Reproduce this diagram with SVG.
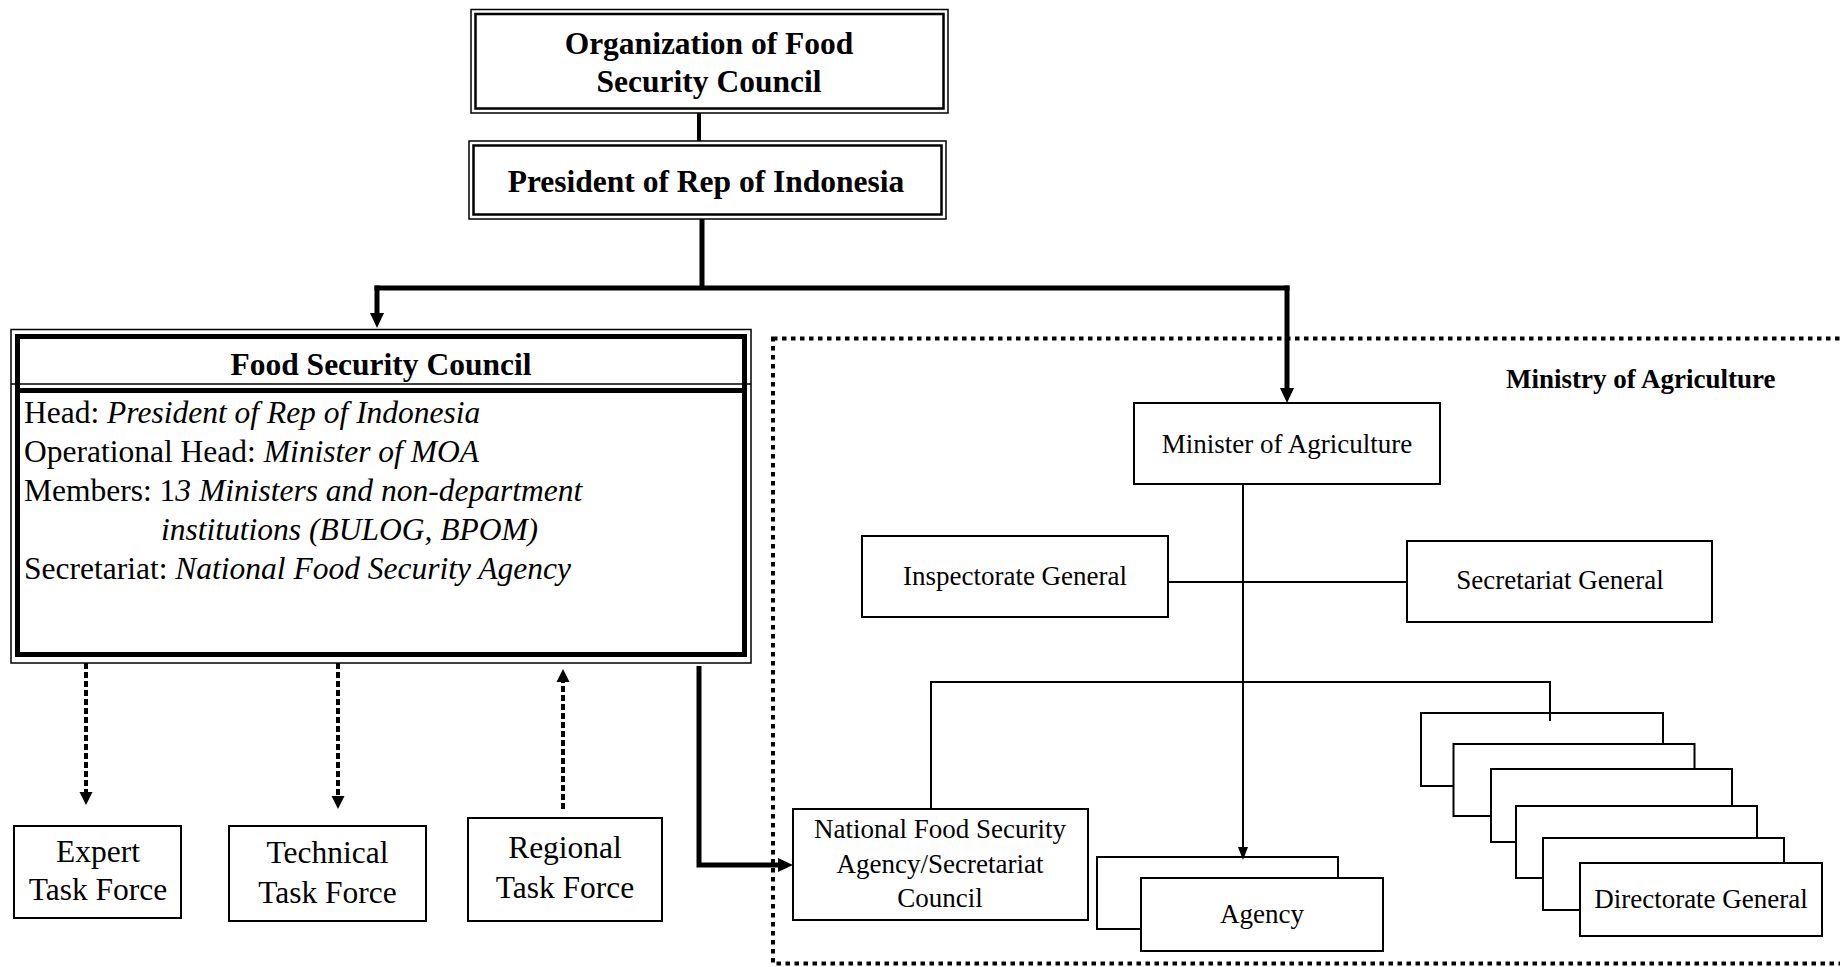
<svg xmlns="http://www.w3.org/2000/svg" width="1840" height="967" viewBox="0 0 1840 967">
<style>
text{font-family:"Liberation Serif","Times New Roman",serif;fill:#000}
.tb{font-weight:bold;font-size:31.5px}
.tr{font-size:31.5px}
.ti{font-style:italic}
.tm{font-size:27px}
.tmb{font-size:27px;font-weight:bold}
.c{text-anchor:middle}
.box{fill:#fff;stroke:#000;stroke-width:2}
.thin{fill:none;stroke:#000;stroke-width:1.5}
.dbl{fill:none;stroke:#000;stroke-width:2.5}
.thick{fill:none;stroke:#000;stroke-width:5}
.ln{fill:none;stroke:#000;stroke-width:2}
.bold{fill:none;stroke:#000;stroke-width:5}
.dash{fill:none;stroke:#000;stroke-width:4;stroke-dasharray:6 3}
.dot{fill:none;stroke:#000;stroke-width:4;stroke-dasharray:4.5 4.5}
</style>
<defs>
<marker id="aBig" markerUnits="userSpaceOnUse" markerWidth="16" markerHeight="16" refX="0" refY="7" orient="auto" viewBox="0 0 16 14"><path d="M0,0 L15,7 L0,14 z" fill="#000"/></marker>
<marker id="aMid" markerUnits="userSpaceOnUse" markerWidth="14" markerHeight="14" refX="0" refY="6.5" orient="auto" viewBox="0 0 14 13"><path d="M0,0 L13,6.5 L0,13 z" fill="#000"/></marker>
<marker id="aSm" markerUnits="userSpaceOnUse" markerWidth="14" markerHeight="12" refX="0" refY="5" orient="auto" viewBox="0 0 14 10"><path d="M0,0 L13,5 L0,10 z" fill="#000"/></marker>
</defs>
<rect width="1840" height="967" fill="#fff"/>

<g id="ministry-frame">
<rect class="dot" x="773" y="338.5" width="1100" height="625"/>
<text class="tmb" x="1506" y="388">Ministry of Agriculture</text>
</g>

<g id="org-title">
<rect class="thin" x="471" y="9.5" width="477" height="103.5"/>
<rect class="dbl" x="475.5" y="14" width="468" height="94.5"/>
<text class="tb c" x="709" y="54">Organization of Food</text>
<text class="tb c" x="709" y="92">Security Council</text>
</g>

<g id="president">
<rect class="thin" x="469" y="141" width="477" height="78"/>
<rect class="dbl" x="473.5" y="145.5" width="468" height="69"/>
<text class="tb c" x="706" y="192">President of Rep of Indonesia</text>
</g>

<g id="food-security-council">
<rect class="thin" x="11" y="329.5" width="740" height="333.5"/>
<line class="thin" x1="11" y1="384" x2="751" y2="384"/>
<rect class="thick" x="17.5" y="336.5" width="727" height="318"/>
<line class="thick" x1="17.5" y1="390.5" x2="744.5" y2="390.5"/>
<text class="tb c" x="381" y="375">Food Security Council</text>
<text class="tr" x="24" y="423">Head: <tspan class="ti">President of Rep of Indonesia</tspan></text>
<text class="tr" x="24" y="462">Operational Head: <tspan class="ti">Minister of MOA</tspan></text>
<text class="tr" x="24" y="501">Members: 1<tspan class="ti">3 Ministers and non-department</tspan></text>
<text class="tr ti" x="161" y="540">institutions (BULOG, BPOM)</text>
<text class="tr" x="24" y="579">Secretariat: <tspan class="ti">National Food Security Agency</tspan></text>
</g>

<g id="expert-task-force">
<rect class="box" x="14" y="826" width="167" height="92"/>
<text class="tr c" x="98" y="862">Expert</text>
<text class="tr c" x="98" y="900">Task Force</text>
</g>
<g id="technical-task-force">
<rect class="box" x="229" y="826" width="197" height="95"/>
<text class="tr c" x="327.5" y="863">Technical</text>
<text class="tr c" x="327.5" y="903">Task Force</text>
</g>
<g id="regional-task-force">
<rect class="box" x="468" y="818" width="194" height="103"/>
<text class="tr c" x="565" y="858">Regional</text>
<text class="tr c" x="565" y="898">Task Force</text>
</g>

<g id="minister-of-agriculture">
<rect class="box" x="1134" y="403" width="306" height="81"/>
<text class="tm c" x="1287" y="453">Minister of Agriculture</text>
</g>
<g id="inspectorate-general">
<rect class="box" x="862" y="536" width="306" height="81"/>
<text class="tm c" x="1015" y="585">Inspectorate General</text>
</g>
<g id="secretariat-general">
<rect class="box" x="1407" y="541" width="305" height="81"/>
<text class="tm c" x="1560" y="589">Secretariat General</text>
</g>
<g id="nfsa">
<rect class="box" x="793" y="809" width="295" height="111"/>
<text class="tm c" x="940" y="838">National Food Security</text>
<text class="tm c" x="940" y="873">Agency/Secretariat</text>
<text class="tm c" x="940" y="907">Council</text>
</g>
<g id="agency">
<rect class="box" x="1097" y="857" width="241" height="72"/>
<rect class="box" x="1141" y="878" width="242" height="73"/>
<text class="tm c" x="1262" y="923">Agency</text>
</g>
<g id="directorate-general">
<rect class="box" x="1421" y="713" width="242" height="73"/>
<rect class="box" x="1453.5" y="744" width="241" height="72"/>
<rect class="box" x="1491" y="769" width="241" height="73"/>
<rect class="box" x="1516" y="806" width="241" height="72"/>
<rect class="box" x="1543" y="838" width="241" height="72"/>
<rect class="box" x="1580" y="863" width="242" height="73"/>
<text class="tm c" x="1701" y="908">Directorate General</text>
</g>

<g id="connectors">
<line x1="699" y1="113" x2="699" y2="141" stroke="#000" stroke-width="4"/>
<path class="bold" d="M702,219 V288"/>
<path class="bold" d="M374.5,288 H1289.5"/>
<path class="bold" d="M377,285.5 V313" marker-end="url(#aBig)"/>
<path class="bold" d="M1287,285.5 V388" marker-end="url(#aBig)"/>
<path class="bold" d="M699,666 V865 H778" marker-end="url(#aBig)"/>
<path class="dash" d="M86,663 V792" marker-end="url(#aMid)"/>
<path class="dash" d="M338,663 V796" marker-end="url(#aMid)"/>
<path class="dash" d="M563,809 V682" marker-end="url(#aMid)"/>
<path class="ln" d="M1243,484 V847" marker-end="url(#aSm)"/>
<path class="ln" d="M1168,582 H1407"/>
<path class="ln" d="M931,809 V682 H1550 V721"/>
</g>
</svg>
